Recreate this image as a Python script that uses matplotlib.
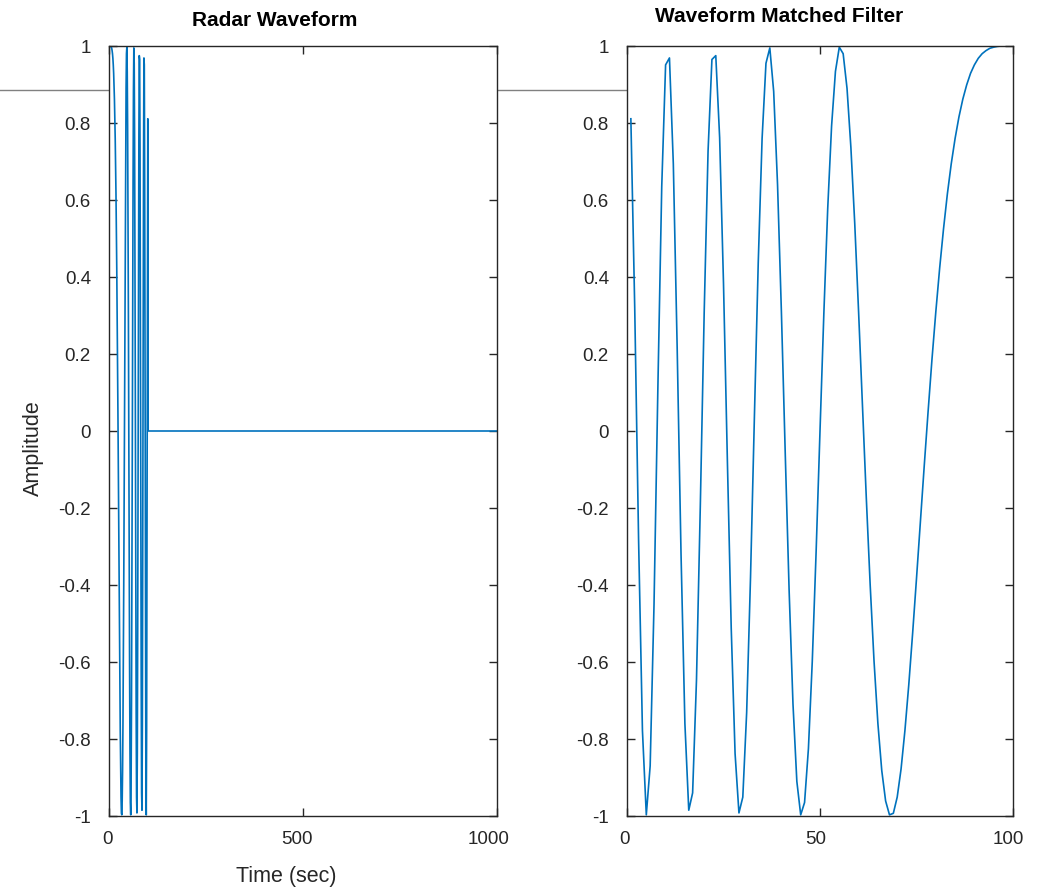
import numpy as np
import matplotlib
matplotlib.use("Agg")
import matplotlib.pyplot as plt
from matplotlib.lines import Line2D
from matplotlib.transforms import ScaledTranslation

plt.rcParams['font.family'] = ['Liberation Sans', 'DejaVu Sans']

# Chirp pulse samples (first 100 samples of the radar waveform)
chirp_pulse = [1.000, 1.000, 1.000, 1.000, 0.999, 0.997, 0.994, 0.988, 0.980, 0.968,
               0.951, 0.929, 0.899, 0.862, 0.816, 0.760, 0.694, 0.616, 0.525, 0.423,
               0.309, 0.185, 0.050, -0.091, -0.237, -0.383, -0.525, -0.659, -0.778, -0.878,
               -0.951, -0.993, -0.997, -0.961, -0.882, -0.760, -0.598, -0.400, -0.175, 0.066,
               0.309, 0.539, 0.737, 0.890, 0.980, 0.997, 0.934, 0.792, 0.578, 0.306,
               0.000, -0.312, -0.598, -0.825, -0.965, -0.997, -0.910, -0.709, -0.414, -0.060,
               0.309, 0.640, 0.882, 0.995, 0.955, 0.760, 0.437, 0.035, -0.380, -0.731,
               -0.951, -0.992, -0.838, -0.512, -0.075, 0.383, 0.762, 0.975, 0.965, 0.727,
               0.309, -0.191, -0.647, -0.940, -0.985, -0.760, -0.321, 0.215, 0.694, 0.969,
               0.951, 0.635, 0.113, -0.451, -0.870, -0.997, -0.778, -0.282, 0.321, 0.811]
# Silence after the pulse (samples 101..1000)
silence = [0.0] * 900

# Matched filter (time-reversed pulse)
matched_filter = [0.811, 0.321, -0.282, -0.778, -0.997, -0.870, -0.451, 0.113, 0.635, 0.951,
                  0.969, 0.694, 0.215, -0.321, -0.760, -0.985, -0.940, -0.647, -0.191, 0.309,
                  0.727, 0.965, 0.975, 0.762, 0.383, -0.075, -0.512, -0.838, -0.992, -0.951,
                  -0.731, -0.380, 0.035, 0.437, 0.760, 0.955, 0.995, 0.882, 0.640, 0.309,
                  -0.060, -0.414, -0.709, -0.910, -0.997, -0.965, -0.825, -0.598, -0.312, 0.000,
                  0.306, 0.578, 0.792, 0.934, 0.997, 0.980, 0.890, 0.737, 0.539, 0.309,
                  0.066, -0.175, -0.400, -0.598, -0.760, -0.882, -0.961, -0.997, -0.993, -0.951,
                  -0.878, -0.778, -0.659, -0.525, -0.383, -0.237, -0.091, 0.050, 0.185, 0.309,
                  0.423, 0.525, 0.616, 0.694, 0.760, 0.816, 0.862, 0.899, 0.929, 0.951,
                  0.968, 0.980, 0.988, 0.994, 0.997, 0.999, 1.000, 1.000, 1.000, 1.000]

y_ticks = [-1, -0.8, -0.6, -0.4, -0.2, 0, 0.2, 0.4, 0.6, 0.8, 1]
y_tick_labels = ['-1', '-0.8', '-0.6', '-0.4', '-0.2', '0', '0.2', '0.4', '0.6', '0.8', '1']
left_x_ticks = [0, 500, 1000]
right_x_ticks = [0, 50, 100]

line_color = (0.0, 0.447, 0.741)
axis_color = (0.15, 0.15, 0.15)

W, H = 1046, 888
fig = plt.figure(figsize=(W / 100, H / 100), dpi=100)

def fx(px):
    return px / W

def fy(py):
    return 1 - py / H

# stray horizontal figure line (behind axes)
fig.add_artist(Line2D([0, 0.8], [fy(90), fy(90)], transform=fig.transFigure,
                      color=(0.5, 0.5, 0.5), lw=1.0, zorder=0))

ax1 = fig.add_axes([fx(109), fy(816), 388 / W, 770 / H])
ax2 = fig.add_axes([fx(627), fy(816), 386 / W, 770 / H])

wave = chirp_pulse + silence
ax1.plot(np.arange(1, len(wave) + 1), wave, color=line_color, lw=1.2)
ax2.plot(np.arange(1, len(matched_filter) + 1), matched_filter, color=line_color, lw=1.2)

label_shifts = {ax1: [-1.5, -6, -8], ax2: [-2, -4, -5]}

for ax, xt, xlim in [(ax1, left_x_ticks, (0, 1000)), (ax2, right_x_ticks, (0, 100))]:
    ax.set_xlim(*xlim)
    ax.set_ylim(-1, 1)
    ax.set_xticks(xt)
    ax.set_xticklabels([str(v) for v in xt])
    ax.set_yticks(y_ticks)
    ax.set_yticklabels(y_tick_labels)
    ax.tick_params(direction='in', length=6, width=1.0, colors=axis_color,
                   labelsize=13.5, top=True, right=True)
    ax.tick_params(axis='y', pad=13)
    ax.tick_params(axis='x', pad=11)
    for s in ax.spines.values():
        s.set_color(axis_color)
        s.set_linewidth(1.0)
    ax.set_facecolor('white')
    ax.set_zorder(1)
    for lab, dx in zip(ax.get_xticklabels(), label_shifts[ax]):
        lab.set_transform(lab.get_transform() +
                          ScaledTranslation(dx / 100, 0, fig.dpi_scale_trans))

fig.text(fx(275), fy(20), 'Radar Waveform', fontsize=15, fontweight='bold',
         color='black', ha='center', va='center', zorder=3)
fig.text(fx(779), fy(17), 'Waveform Matched Filter', fontsize=15, fontweight='bold',
         color='black', ha='center', va='center', zorder=3)
fig.text(fx(286), fy(876), 'Time (sec)', fontsize=15.5, color=axis_color,
         ha='center', va='center', zorder=3)
fig.text(fx(33), fy(448.5), 'Amplitude', fontsize=15.5, color=axis_color,
         ha='center', va='center', rotation=90, zorder=3)

fig.savefig('out.png', dpi=100, facecolor='white')
